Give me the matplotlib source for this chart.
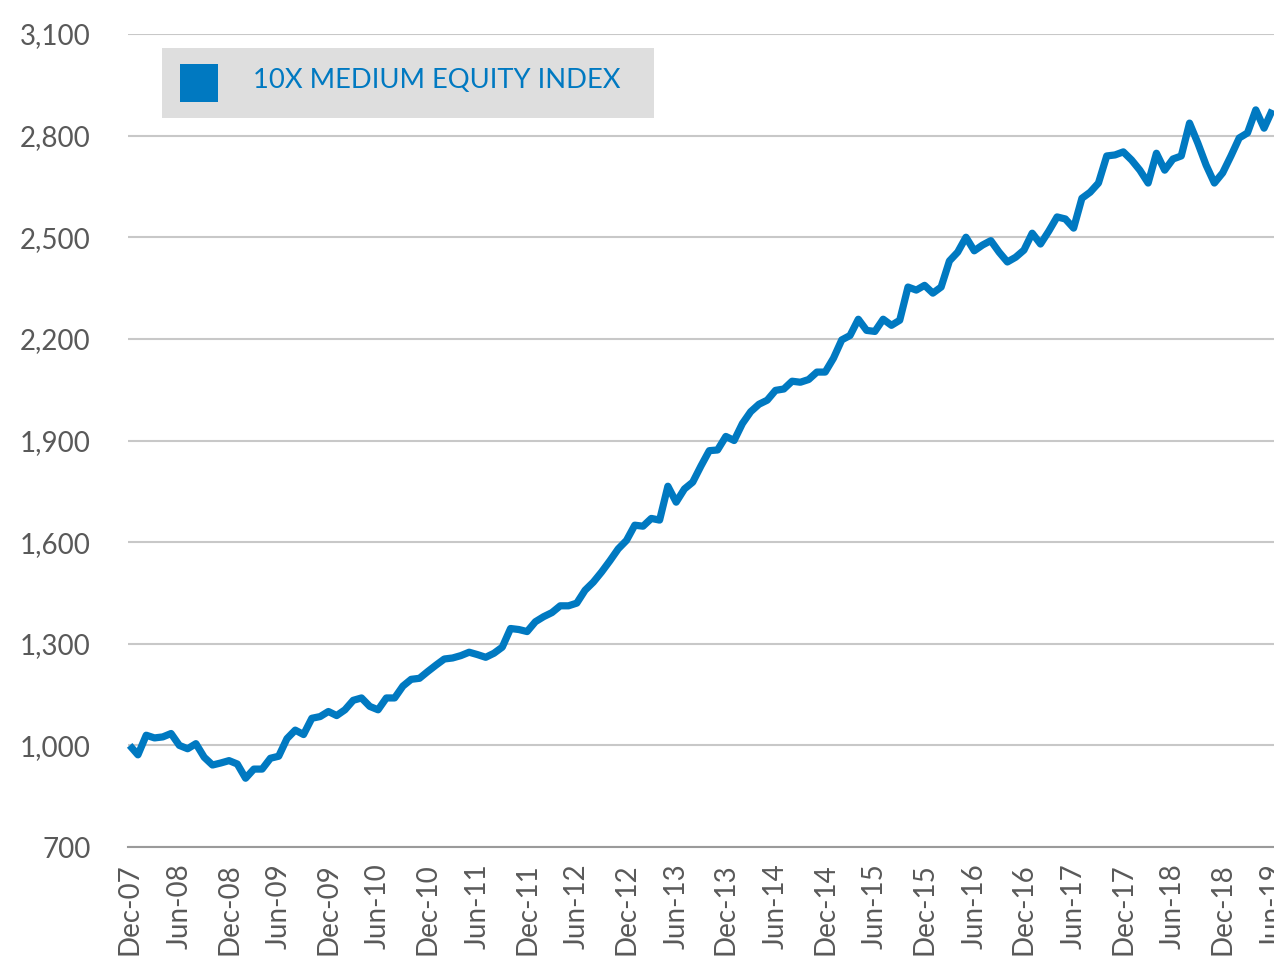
import matplotlib
matplotlib.use("Agg")
import matplotlib.pyplot as plt
from matplotlib.patches import Rectangle

# monthly index level, Dec-07 .. Jun-19
index_values = [
    1000, 972, 1030, 1022, 1025, 1035, 1000, 990, 1005, 965,
    942, 948, 955, 945, 903, 930, 930, 962, 968, 1020,
    1045, 1032, 1080, 1085, 1100, 1088, 1105, 1133, 1140, 1115,
    1105, 1140, 1140, 1175, 1195, 1198, 1218, 1237, 1255, 1258,
    1265, 1275, 1268, 1260, 1272, 1290, 1345, 1342, 1336, 1365,
    1380, 1392, 1412, 1412, 1420, 1458, 1482, 1512, 1545, 1580,
    1605, 1650, 1647, 1670, 1665, 1765, 1718, 1757, 1777, 1825,
    1870, 1872, 1912, 1900, 1950, 1985, 2007, 2019, 2048, 2052,
    2075, 2072, 2080, 2102, 2102, 2143, 2197, 2210, 2258, 2225,
    2222, 2258, 2240, 2255, 2353, 2344, 2358, 2335, 2353, 2430,
    2456, 2500, 2460, 2477, 2490, 2456, 2427, 2441, 2462, 2512,
    2480, 2518, 2560, 2554, 2527, 2615, 2633, 2660, 2740, 2743,
    2752, 2728, 2698, 2660, 2748, 2698, 2731, 2740, 2837, 2778,
    2713, 2660, 2690, 2740, 2793, 2808, 2876, 2822, 2876,
]

tick_labels = [
    "Dec-07", "Jun-08", "Dec-08", "Jun-09", "Dec-09", "Jun-10", "Dec-10",
    "Jun-11", "Dec-11", "Jun-12", "Dec-12", "Jun-13", "Dec-13", "Jun-14",
    "Dec-14", "Jun-15", "Dec-15", "Jun-16", "Dec-16", "Jun-17", "Dec-17",
    "Jun-18", "Dec-18", "Jun-19",
]
y_ticks = [700, 1000, 1300, 1600, 1900, 2200, 2500, 2800, 3100]

series_name = "10X MEDIUM EQUITY INDEX"
blue = "#0079C1"
grey_text = "#595959"

plt.rcParams["font.family"] = ["Lato", "DejaVu Sans"]

fig = plt.figure(figsize=(12.74, 9.6), dpi=100)
ax = fig.add_axes([128 / 1274, 1 - 847 / 960, 1 - 128 / 1274, (847 - 34) / 960])

months = list(range(len(index_values)))
ax.plot(months, index_values, color=blue, linewidth=5.2, solid_joinstyle="round",
        solid_capstyle="butt", zorder=3, clip_on=False)

ax.set_ylim(700, 3100)
ax.set_xlim(-0.2, 138.2)
ax.set_yticks(y_ticks)
ax.set_yticklabels([f"{v:,}" for v in y_ticks])
ax.set_xticks(range(0, 6 * len(tick_labels), 6))
ax.set_xticklabels(tick_labels, rotation=90)

ax.grid(axis="y", color="#c8c8c8", linewidth=1.5)
ax.set_axisbelow(True)
for side in ["top", "right", "left"]:
    ax.spines[side].set_visible(False)
ax.spines["bottom"].set_color("#9a9a9a")
ax.spines["bottom"].set_linewidth(1.5)

ax.tick_params(axis="y", length=0, pad=27, labelsize=20, labelcolor=grey_text)
ax.tick_params(axis="x", length=0, pad=12, labelsize=20, labelcolor=grey_text)

# legend box
fig.patches.append(Rectangle((162 / 1274, 1 - 118 / 960), 492 / 1274, 70 / 960,
                             transform=fig.transFigure, facecolor="#dedede",
                             edgecolor="none", zorder=5))
fig.patches.append(Rectangle((180 / 1274, 1 - 102 / 960), 38 / 1274, 38 / 960,
                             transform=fig.transFigure, facecolor=blue,
                             edgecolor="none", zorder=6))
fig.text(253 / 1274, 1 - 81 / 960, series_name, color=blue, fontsize=19.7,
         va="center", ha="left", zorder=7)

fig.savefig("out.png", dpi=100)
